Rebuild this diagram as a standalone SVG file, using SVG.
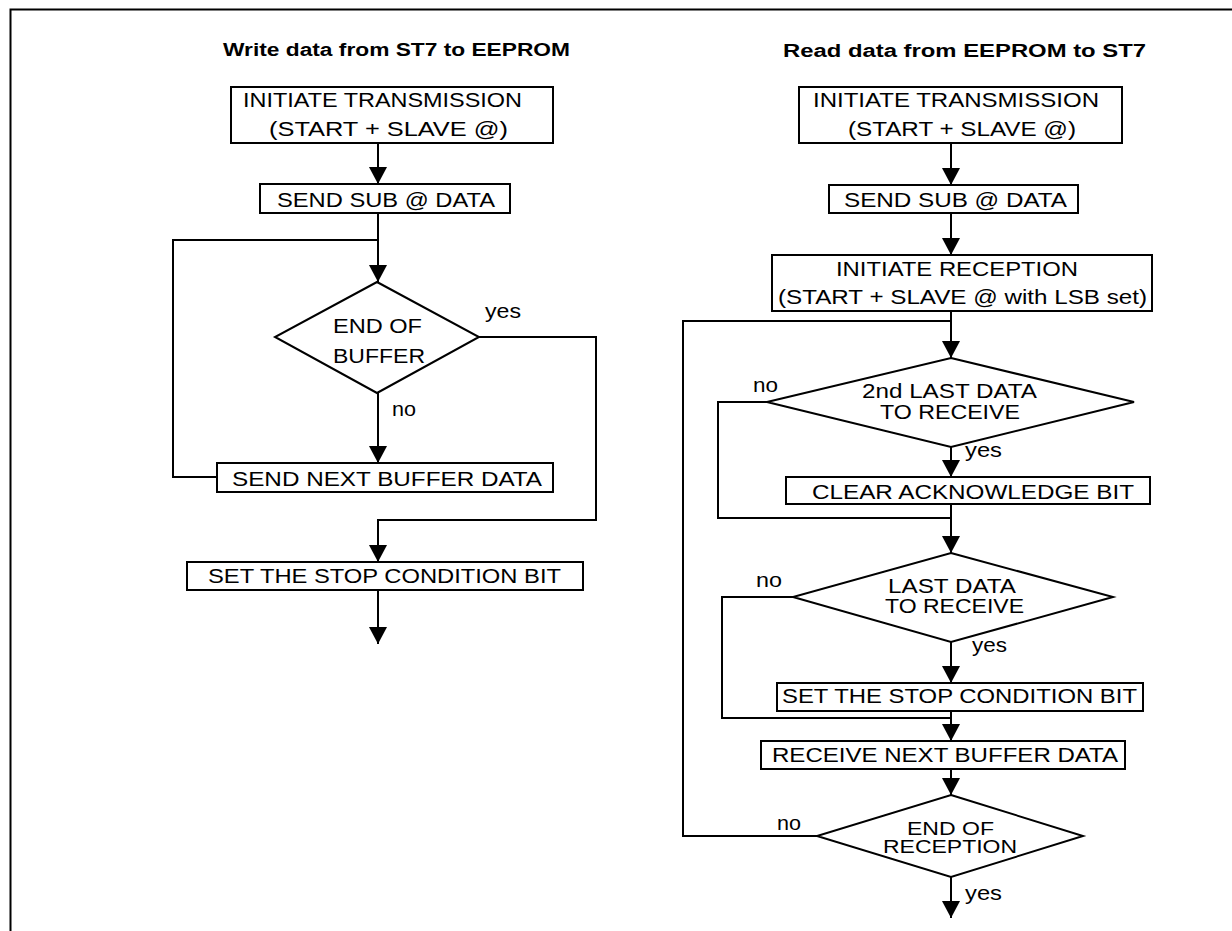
<svg xmlns="http://www.w3.org/2000/svg" width="1232" height="931" viewBox="0 0 1232 931">
<style>
  .box { fill: #fff; stroke: #000; stroke-width: 2; }
  .ln { fill: none; stroke: #000; stroke-width: 2; }
  .t { font-family: "Liberation Sans", Arial, sans-serif; font-size: 20.5px; fill: #000; }
  .td { font-family: "Liberation Sans", Arial, sans-serif; font-size: 19.5px; fill: #000; }
  .ts { font-family: "Liberation Sans", Arial, sans-serif; font-size: 18px; fill: #000; }
  .ti { font-family: "Liberation Sans", Arial, sans-serif; font-size: 18px; font-weight: bold; fill: #000; }
</style>
<defs>
  <marker id="ah" markerUnits="userSpaceOnUse" viewBox="0 0 17 18" markerWidth="17" markerHeight="18" refX="17" refY="9" orient="auto">
    <path d="M0,0 L17,9 L0,18 z" fill="#000"/>
  </marker>
</defs>
<rect x="0" y="0" width="1232" height="931" fill="#fff"/>
<path class="ln" d="M10.5,931 V9.5 H1232"/>

<text class="ti" x="223" y="56" textLength="347" lengthAdjust="spacingAndGlyphs">Write data from ST7 to EEPROM</text>
<text class="ti" x="783" y="57" textLength="363" lengthAdjust="spacingAndGlyphs">Read data from EEPROM to ST7</text>

<g id="connectors">
  <path class="ln" d="M378,143 V184" marker-end="url(#ah)"/>
  <path class="ln" d="M378,213 V282" marker-end="url(#ah)"/>
  <path class="ln" d="M217,477 H173 V240 H378"/>
  <path class="ln" d="M378,393 V463" marker-end="url(#ah)"/>
  <path class="ln" d="M479,337 H596 V520 H378 V562" marker-end="url(#ah)"/>
  <path class="ln" d="M378,590 V644" marker-end="url(#ah)"/>

  <path class="ln" d="M951,143 V185" marker-end="url(#ah)"/>
  <path class="ln" d="M951,213 V255" marker-end="url(#ah)"/>
  <path class="ln" d="M951,311 V358" marker-end="url(#ah)"/>
  <path class="ln" d="M817,836 H683 V321 H951"/>
  <path class="ln" d="M767,402 H718 V518 H951"/>
  <path class="ln" d="M951,447 V477" marker-end="url(#ah)"/>
  <path class="ln" d="M951,504 V553" marker-end="url(#ah)"/>
  <path class="ln" d="M793,597 H722 V718 H951"/>
  <path class="ln" d="M951,642 V683" marker-end="url(#ah)"/>
  <path class="ln" d="M951,711 V741" marker-end="url(#ah)"/>
  <path class="ln" d="M951,769 V795" marker-end="url(#ah)"/>
  <path class="ln" d="M951,877 V918" marker-end="url(#ah)"/>

  <text class="t" x="485" y="318" textLength="36" lengthAdjust="spacingAndGlyphs">yes</text>
  <text class="t" x="392" y="416" textLength="24" lengthAdjust="spacingAndGlyphs">no</text>
  <text class="t" x="753" y="392" textLength="25" lengthAdjust="spacingAndGlyphs">no</text>
  <text class="t" x="965" y="457" textLength="37" lengthAdjust="spacingAndGlyphs">yes</text>
  <text class="t" x="756" y="587" textLength="26" lengthAdjust="spacingAndGlyphs">no</text>
  <text class="t" x="972" y="652" textLength="35" lengthAdjust="spacingAndGlyphs">yes</text>
  <text class="t" x="777" y="830" textLength="24" lengthAdjust="spacingAndGlyphs">no</text>
  <text class="t" x="965" y="900" textLength="37" lengthAdjust="spacingAndGlyphs">yes</text>
</g>

<g id="w-init">
  <rect class="box" x="231" y="87" width="322" height="56"/>
  <text class="t" x="243" y="107" textLength="279" lengthAdjust="spacingAndGlyphs">INITIATE TRANSMISSION</text>
  <text class="t" x="269" y="136" textLength="239" lengthAdjust="spacingAndGlyphs">(START + SLAVE @)</text>
</g>
<g id="w-sub">
  <rect class="box" x="260" y="184" width="250" height="29"/>
  <text class="t" x="277" y="207" textLength="218" lengthAdjust="spacingAndGlyphs">SEND SUB @ DATA</text>
</g>
<g id="w-endbuf">
  <polygon class="box" points="377,282 479,337 377,393 275,337"/>
  <text class="t" x="333" y="333" textLength="89" lengthAdjust="spacingAndGlyphs">END OF</text>
  <text class="t" x="333" y="363" textLength="92" lengthAdjust="spacingAndGlyphs">BUFFER</text>
</g>
<g id="w-next">
  <rect class="box" x="217" y="463" width="336" height="29"/>
  <text class="t" x="232" y="486" textLength="310" lengthAdjust="spacingAndGlyphs">SEND NEXT BUFFER DATA</text>
</g>
<g id="w-stop">
  <rect class="box" x="187" y="562" width="396" height="28"/>
  <text class="t" x="208" y="583" textLength="353" lengthAdjust="spacingAndGlyphs">SET THE STOP CONDITION BIT</text>
</g>

<g id="r-init">
  <rect class="box" x="799" y="87" width="323" height="56"/>
  <text class="t" x="813" y="107" textLength="286" lengthAdjust="spacingAndGlyphs">INITIATE TRANSMISSION</text>
  <text class="t" x="848" y="136" textLength="228" lengthAdjust="spacingAndGlyphs">(START + SLAVE @)</text>
</g>
<g id="r-sub">
  <rect class="box" x="829" y="185" width="249" height="28"/>
  <text class="t" x="844" y="207" textLength="223" lengthAdjust="spacingAndGlyphs">SEND SUB @ DATA</text>
</g>
<g id="r-rec">
  <rect class="box" x="772" y="255" width="380" height="56"/>
  <text class="t" x="836" y="276" textLength="242" lengthAdjust="spacingAndGlyphs">INITIATE RECEPTION</text>
  <text class="t" x="778" y="304" textLength="369" lengthAdjust="spacingAndGlyphs">(START + SLAVE @ with LSB set)</text>
</g>
<g id="r-2nd">
  <polygon class="box" points="951,358 1134,402 951,447 767,402"/>
  <text class="td" x="862" y="398" textLength="175" lengthAdjust="spacingAndGlyphs">2nd LAST DATA</text>
  <text class="td" x="880" y="418.5" textLength="140" lengthAdjust="spacingAndGlyphs">TO RECEIVE</text>
</g>
<g id="r-clear">
  <rect class="box" x="786" y="477" width="364" height="27"/>
  <text class="t" x="812" y="498.5" textLength="322" lengthAdjust="spacingAndGlyphs">CLEAR ACKNOWLEDGE BIT</text>
</g>
<g id="r-last">
  <polygon class="box" points="951,553 1113,597 951,642 793,597"/>
  <text class="td" x="888" y="592.5" textLength="128" lengthAdjust="spacingAndGlyphs">LAST DATA</text>
  <text class="td" x="885" y="612.5" textLength="139" lengthAdjust="spacingAndGlyphs">TO RECEIVE</text>
</g>
<g id="r-stop">
  <rect class="box" x="777" y="683" width="366" height="28"/>
  <text class="t" x="782" y="703" textLength="355" lengthAdjust="spacingAndGlyphs">SET THE STOP CONDITION BIT</text>
</g>
<g id="r-next">
  <rect class="box" x="761" y="741" width="364" height="28"/>
  <text class="t" x="772" y="762" textLength="346" lengthAdjust="spacingAndGlyphs">RECEIVE NEXT BUFFER DATA</text>
</g>
<g id="r-end">
  <polygon class="box" points="951,795 1083,836 951,877 817,836"/>
  <text class="ts" x="907" y="834.5" textLength="87" lengthAdjust="spacingAndGlyphs">END OF</text>
  <text class="ts" x="883" y="853" textLength="134" lengthAdjust="spacingAndGlyphs">RECEPTION</text>
</g>
</svg>
